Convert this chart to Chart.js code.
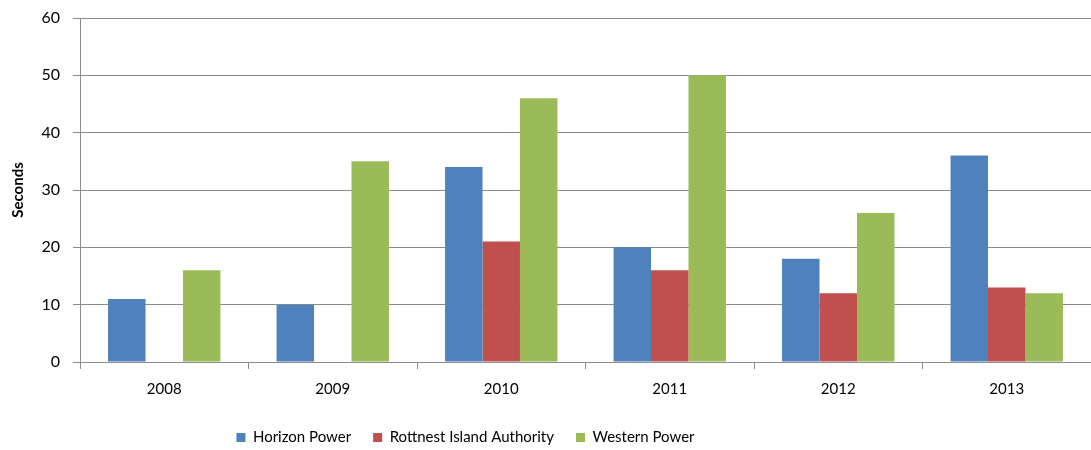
<!DOCTYPE html>
<html lang="en">
<head>
  <meta charset="UTF-8">
  <title>Seconds by year</title>
  <script src="https://cdn.jsdelivr.net/npm/chart.js"></script>
  <style>
    html, body {
      margin: 0;
      padding: 0;
      background: #fff;
    }
    .wrap {
      width: 1091px;
      height: 450px;
    }
  </style>
</head>
<body>
  <div class="wrap">
    <canvas id="chart" width="1091" height="450"></canvas>
  </div>

  <script>
    const years = ['2008', '2009', '2010', '2011', '2012', '2013'];
    const horizonPower = [11, 10, 34, 20, 18, 36];
    const rottnestIsland = [null, null, 21, 16, 12, 13];
    const westernPower = [16, 35, 46, 50, 26, 12];
    const yTicks = [0, 10, 20, 30, 40, 50, 60];

    const fontFamily = 'Lato, "Open Sans", sans-serif';
    const axisGrey = '#8c8c8c';

    // the original legend sits off-centre and a little lower
    const legendShift = {
      id: 'legendShift',
      afterLayout(chart) {
        const lg = chart.legend;
        if (!lg) return;
        lg.left -= 80;
        lg.right -= 80;
        lg.top += 5;
        lg.bottom += 5;
      }
    };

    new Chart(document.getElementById('chart'), {
      type: 'bar',
      data: {
        labels: years,
        datasets: [
          { label: 'Horizon Power', data: horizonPower, backgroundColor: '#4F81BD' },
          { label: 'Rottnest Island Authority', data: rottnestIsland, backgroundColor: '#C0504D' },
          { label: 'Western Power', data: westernPower, backgroundColor: '#9BBB59' }
        ]
      },
      options: {
        responsive: false,
        animation: false,
        layout: {
          padding: { top: 18, right: 0, left: 0, bottom: 0 }
        },
        datasets: {
          bar: {
            categoryPercentage: 0.667,
            barPercentage: 1.0,
            borderWidth: 0
          }
        },
        plugins: {
          tooltip: { enabled: false },
          legend: {
            position: 'bottom',
            labels: {
              boxWidth: 9,
              boxHeight: 9,
              padding: 22,
              color: '#000',
              font: { family: fontFamily, size: 15 }
            }
          }
        },
        scales: {
          x: {
            grid: {
              display: true,
              offset: true,
              drawOnChartArea: false,
              drawTicks: true,
              tickLength: 7,
              color: axisGrey
            },
            border: { color: axisGrey, width: 1 },
            ticks: {
              color: '#000',
              padding: 11,
              font: { family: fontFamily, size: 15 }
            },
            afterFit(scale) {
              scale.height = 41;
            }
          },
          y: {
            min: 0,
            max: 60,
            afterBuildTicks(scale) {
              scale.ticks = yTicks.map(v => ({ value: v }));
            },
            grid: {
              color: axisGrey,
              tickLength: 7
            },
            border: { color: axisGrey, width: 1 },
            ticks: {
              color: '#000',
              padding: 13,
              // small line height so the label padding does not push the plot down
              font: { family: fontFamily, size: 16, lineHeight: 0.6 }
            },
            title: {
              display: true,
              text: 'Seconds',
              color: '#000',
              padding: { top: 9, bottom: 0 },
              font: { family: fontFamily, size: 15, weight: 'bold' }
            },
            afterFit(scale) {
              scale.width = 80;
            }
          }
        }
      },
      plugins: [legendShift]
    });
  </script>
</body>
</html>
